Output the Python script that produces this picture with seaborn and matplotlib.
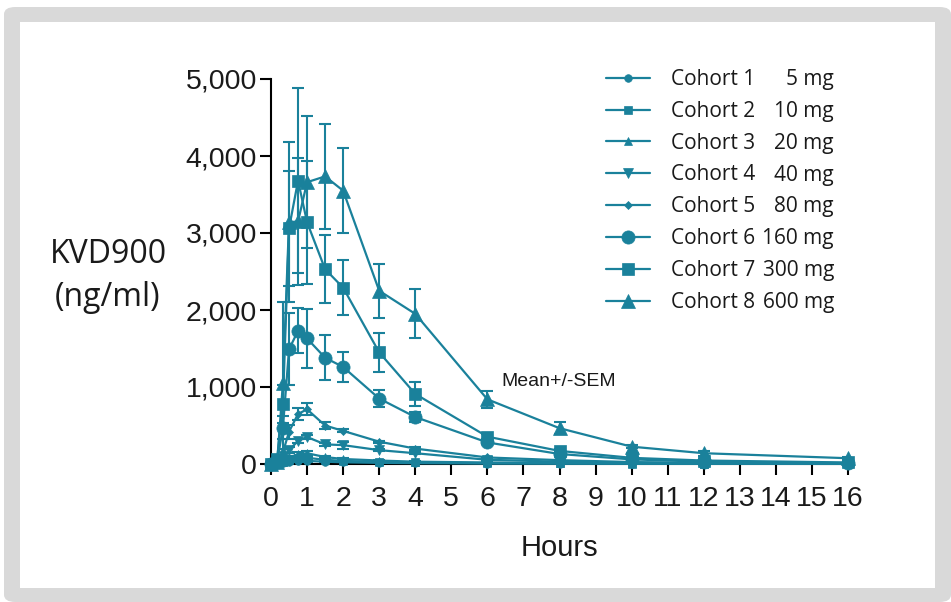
import matplotlib
matplotlib.use("Agg")
import matplotlib.pyplot as plt
from matplotlib.patches import FancyBboxPatch, Rectangle
from matplotlib.ticker import FuncFormatter
import seaborn as sns
import pandas as pd

# sampling times (hours)
hours = [0, 0.17, 0.33, 0.5, 0.75, 1, 1.5, 2, 3, 4, 6, 8, 10, 12, 16]

cohorts = ["Cohort 1", "Cohort 2", "Cohort 3", "Cohort 4",
           "Cohort 5", "Cohort 6", "Cohort 7", "Cohort 8"]
doses = ["5 mg", "10 mg", "20 mg", "40 mg", "80 mg", "160 mg", "300 mg", "600 mg"]

# mean concentration (ng/ml)
mean_c1 = [0, 2, 10, 25, 40, 40, 30, 22, 15, 10, 6, 4, 3, 2, 1]
mean_c2 = [0, 3, 20, 50, 75, 80, 55, 40, 28, 20, 10, 7, 5, 3, 2]
mean_c3 = [0, 5, 30, 80, 130, 140, 90, 65, 45, 30, 20, 12, 8, 5, 3]
mean_c4 = [0, 5, 60, 180, 300, 350, 255, 245, 180, 140, 55, 30, 15, 10, 5]
mean_c5 = [0, 10, 150, 420, 650, 710, 500, 430, 290, 200, 85, 50, 25, 15, 8]
mean_c6 = [0, 30, 470, 1490, 1730, 1630, 1380, 1260, 850, 610, 280, 130, 60, 30, 12]
mean_c7 = [0, 60, 780, 3060, 3680, 3140, 2530, 2290, 1450, 910, 355, 170, 80, 45, 20]
mean_c8 = [0, 20, 1050, 3140, 3150, 3660, 3735, 3550, 2250, 1950, 840, 465, 225, 140, 75]

# SEM
sem_c1 = [0, 1, 3, 6, 8, 8, 5, 4, 3, 2, 1, 1, 1, 0, 0]
sem_c2 = [0, 1, 6, 12, 15, 15, 10, 8, 5, 4, 2, 1, 1, 1, 0]
sem_c3 = [0, 2, 10, 20, 25, 25, 15, 10, 8, 5, 4, 2, 2, 1, 1]
sem_c4 = [0, 2, 20, 40, 30, 25, 20, 45, 15, 15, 8, 5, 3, 2, 1]
sem_c5 = [0, 4, 50, 90, 80, 80, 40, 20, 15, 15, 10, 6, 4, 3, 2]
sem_c6 = [0, 10, 150, 470, 290, 380, 290, 200, 110, 70, 20, 15, 8, 5, 3]
sem_c7 = [0, 20, 250, 750, 1200, 800, 440, 360, 250, 160, 30, 20, 12, 8, 5]
sem_c8 = [0, 10, 1050, 1040, 820, 860, 680, 550, 350, 320, 110, 80, 20, 30, 20]

means = [mean_c1, mean_c2, mean_c3, mean_c4, mean_c5, mean_c6, mean_c7, mean_c8]
sems = [sem_c1, sem_c2, sem_c3, sem_c4, sem_c5, sem_c6, sem_c7, sem_c8]
markers = ["o", "s", "^", "v", "D", "o", "s", "^"]
msizes = [5.5, 5.5, 6, 6.5, 4, 9.5, 8.5, 10]

teal = "#1a819b"
text_col = "#1a1a1a"
legend_font = ["Open Sans", "DejaVu Sans"]

sns.set_theme(style="ticks")
plt.rcParams["font.family"] = ["Liberation Sans", "DejaVu Sans"]

fig = plt.figure(figsize=(9.51, 6.02), dpi=100)
fig.patch.set_facecolor("white")

# grey rounded frame around the panel
fig.patches.append(FancyBboxPatch((4 / 951, 0), 947 / 951, 595 / 602,
                                  boxstyle="round,pad=0,rounding_size=0.012",
                                  transform=fig.transFigure, facecolor="#d9d9d9",
                                  edgecolor="none", zorder=-10))
fig.patches.append(Rectangle((20 / 951, 14 / 602), 915 / 951, 566 / 602,
                             transform=fig.transFigure, facecolor="white",
                             edgecolor="none", zorder=-9))

ax = fig.add_axes([271 / 951, (602 - 464) / 602, 577 / 951, 385 / 602])
ax.set_facecolor("none")

for name, m, s, mk, ms in zip(cohorts, means, sems, markers, msizes):
    df = pd.DataFrame({"Hours": hours, "conc": m})
    ax.errorbar(hours, m, yerr=s, fmt="none", ecolor=teal, elinewidth=1.5,
                capsize=4, capthick=1.5, zorder=2)
    sns.lineplot(data=df, x="Hours", y="conc", ax=ax, color=teal, marker=mk,
                 markersize=ms, markeredgecolor=teal, markeredgewidth=0.5,
                 linewidth=1.6, label=name, clip_on=False, zorder=3)

ax.set_xlim(0, 16)
ax.set_ylim(0, 5000)
ax.set_xticks(range(0, 17))
ax.set_yticks(range(0, 5001, 1000))
ax.yaxis.set_major_formatter(FuncFormatter(lambda v, p: f"{int(v):,}"))
ax.tick_params(axis="both", labelsize=20.5, length=8, width=1.5, colors="black",
               labelcolor=text_col)
ax.tick_params(axis="y", pad=2)
ax.tick_params(axis="x", pad=8)
for side in ["left", "bottom"]:
    ax.spines[side].set_linewidth(1.5)
    ax.spines[side].set_color("black")
sns.despine(ax=ax)

ax.set_xlabel("Hours", fontsize=21, labelpad=16, color=text_col)
ax.set_ylabel("")
fig.text(108 / 951, (602 - 276) / 602, "KVD900\n(ng/ml)", ha="center", va="center",
         fontsize=23, family=legend_font, linespacing=1.4, color=text_col)

ax.text(6.4, 1070, "Mean+/-SEM", fontsize=14, ha="left", va="center",
        color=text_col)

leg = fig.legend(*ax.get_legend_handles_labels(), loc="upper left",
                 bbox_to_anchor=(606 / 951, (602 - 69) / 602), frameon=False,
                 prop={"family": legend_font, "size": 15},
                 handlelength=2.1, handletextpad=1.0, labelspacing=0.52,
                 borderpad=0, borderaxespad=0)
ax.get_legend().remove()
for t in leg.get_texts():
    t.set_color(text_col)

# dose labels right-aligned beside each legend row
fig.canvas.draw()
for t, d in zip(leg.get_texts(), doses):
    bb = t.get_window_extent()
    yc = (bb.y0 + bb.y1) / 2 / fig.bbox.height
    fig.text(834 / 951, yc, d, ha="right", va="center", fontsize=15,
             family=legend_font, color=text_col)

fig.savefig("out.png", dpi=100)
